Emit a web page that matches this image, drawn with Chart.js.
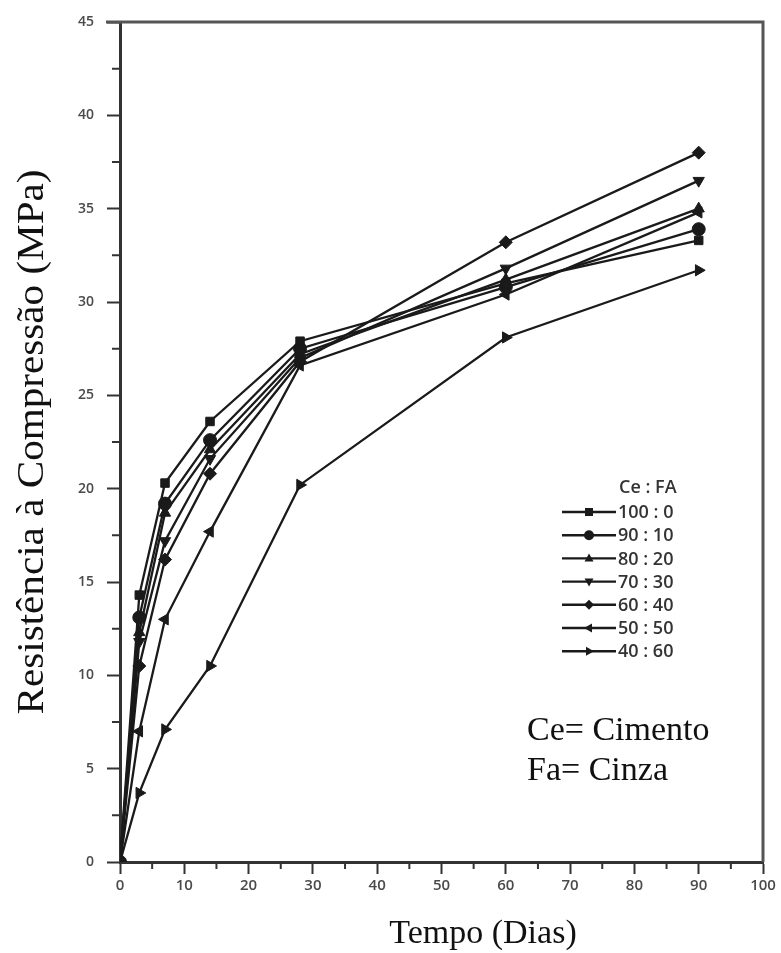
<!DOCTYPE html>
<html>
<head>
<meta charset="utf-8">
<script src="https://cdn.jsdelivr.net/npm/chart.js@4.4.0/dist/chart.umd.min.js"></script>
<style>
  html, body { margin: 0; padding: 0; background: #fff; }
  #wrap { width: 781px; height: 953px; position: relative; }
</style>
</head>
<body>
<div id="wrap"><canvas id="resChart"></canvas></div>
<script>
// Tempo (dias)
const dias = [0, 3, 7, 14, 28, 60, 90];

// Resistência à compressão (MPa) por traço Ce : FA
const s100_0 = [0, 14.3, 20.3, 23.6, 27.9, 31.0, 33.3];
const s90_10 = [0, 13.1, 19.2, 22.6, 27.5, 30.8, 33.9];
const s80_20 = [0, 12.3, 18.7, 22.1, 27.2, 31.2, 35.0];
const s70_30 = [0, 11.8, 17.2, 21.6, 27.0, 31.8, 36.5];
const s60_40 = [0, 10.5, 16.2, 20.8, 26.8, 33.2, 38.0];
const s50_50 = [0, 7.0, 13.0, 17.7, 26.6, 30.4, 34.8];
const s40_60 = [0, 3.7, 7.1, 10.5, 20.2, 28.1, 31.7];

const seriesLabels = ['100 : 0', '90 : 10', '80 : 20', '70 : 30', '60 : 40', '50 : 50', '40 : 60'];
const seriesValues = [s100_0, s90_10, s80_20, s70_30, s60_40, s50_50, s40_60];
const markerStyles = ['rect', 'circle', 'triangle', 'triangle', 'rectRot', 'triangle', 'triangle'];
const markerRotation = [0, 0, 0, 180, 0, 270, 90];

const yTicks = [0, 5, 10, 15, 20, 25, 30, 35, 40, 45];
const xTicks = [0, 10, 20, 30, 40, 50, 60, 70, 80, 90, 100];

const INK = '#1a1a1a';
const AXIS = '#333';
const TICK_TXT = '#4a4a4a';

function buildDatasets() {
    return seriesLabels.map(function(label, i) {
        return {
            label: label,
            data: dias.map(function(d, k) { return { x: d, y: seriesValues[i][k] }; }),
            borderColor: INK,
            backgroundColor: INK,
            borderWidth: 2.3,
            pointStyle: markerStyles[i],
            rotation: markerRotation[i],
            pointRadius: markerStyles[i] === 'rect' ? 6 : 6.5,
            pointBorderWidth: 1,
            tension: 0
        };
    });
}

// small marker drawer for the legend
function drawMarker(ctx, style, rot, x, y, r) {
    ctx.save();
    ctx.translate(x, y);
    ctx.rotate(rot * Math.PI / 180);
    ctx.beginPath();
    if (style === 'rect') {
        ctx.rect(-r * 0.8, -r * 0.8, r * 1.6, r * 1.6);
    } else if (style === 'circle') {
        ctx.arc(0, 0, r, 0, Math.PI * 2);
    } else if (style === 'rectRot') {
        ctx.moveTo(0, -r); ctx.lineTo(r, 0); ctx.lineTo(0, r); ctx.lineTo(-r, 0);
    } else {
        ctx.moveTo(0, -r); ctx.lineTo(r * 0.9, r * 0.6); ctx.lineTo(-r * 0.9, r * 0.6);
    }
    ctx.closePath();
    ctx.fillStyle = INK;
    ctx.fill();
    ctx.restore();
}

// frame, minor ticks, titles, legend and notes
const decorPlugin = {
    id: 'decor',
    afterDraw: function(chart) {
        const ctx = chart.ctx;
        const area = chart.chartArea;
        const xs = chart.scales.x;
        const ys = chart.scales.y;

        ctx.save();
        // top and right frame
        ctx.strokeStyle = '#555';
        ctx.lineWidth = 3;
        ctx.beginPath();
        ctx.moveTo(area.left - 14, area.top);
        ctx.lineTo(area.right, area.top);
        ctx.lineTo(area.right, area.bottom);
        ctx.stroke();

        // minor ticks
        ctx.strokeStyle = AXIS;
        ctx.lineWidth = 2;
        ctx.beginPath();
        for (let v = 2.5; v < 45; v += 5) {
            const py = ys.getPixelForValue(v);
            ctx.moveTo(area.left - 8, py);
            ctx.lineTo(area.left, py);
        }
        for (let v = 5; v < 100; v += 10) {
            const px = xs.getPixelForValue(v);
            ctx.moveTo(px, area.bottom);
            ctx.lineTo(px, area.bottom + 7);
        }
        ctx.stroke();

        // axis titles
        ctx.fillStyle = '#111';
        ctx.font = "34px 'Liberation Serif'";
        ctx.textAlign = 'center';
        ctx.textBaseline = 'middle';
        ctx.fillText('Tempo (Dias)', 483, 934);

        const yTitle = 'Resistência à Compressão (MPa)';
        ctx.save();
        ctx.font = "37px 'Liberation Serif'";
        ctx.translate(33, (area.top + area.bottom) / 2);
        ctx.rotate(-Math.PI / 2);
        const w = ctx.measureText(yTitle).width;
        ctx.scale(545 / w, 1);
        ctx.fillText(yTitle, 0, 0);
        ctx.restore();

        // notes
        ctx.textAlign = 'left';
        ctx.font = "34px 'Liberation Serif'";
        ctx.fillText('Ce= Cimento', 527, 731);
        ctx.fillText('Fa= Cinza', 527, 771);

        // legend
        ctx.font = "600 18px 'Open Sans'";
        ctx.fillStyle = '#333';
        ctx.fillText('Ce : FA', 619, 488);
        seriesLabels.forEach(function(label, i) {
            const ly = 512 + i * 23.2;
            ctx.strokeStyle = INK;
            ctx.lineWidth = 2.4;
            ctx.beginPath();
            ctx.moveTo(562, ly);
            ctx.lineTo(616, ly);
            ctx.stroke();
            drawMarker(ctx, markerStyles[i], markerRotation[i], 589, ly, 5);
            ctx.fillStyle = '#333';
            ctx.fillText(label, 618, ly + 1);
        });
        ctx.restore();
    }
};

function createChart() {
    const ctx = document.getElementById('resChart').getContext('2d');
    new Chart(ctx, {
        type: 'line',
        data: { datasets: buildDatasets() },
        options: {
            responsive: true,
            maintainAspectRatio: false,
            animation: false,
            layout: { padding: { top: 22, right: 18, left: 0, bottom: 0 } },
            plugins: {
                legend: { display: false },
                tooltip: { enabled: false }
            },
            scales: {
                x: {
                    type: 'linear',
                    min: 0,
                    max: 100,
                    afterFit: function(scale) { scale.height = 91; },
                    afterBuildTicks: function(scale) {
                        scale.ticks = xTicks.map(function(v) { return { value: v }; });
                    },
                    grid: { drawOnChartArea: false, drawTicks: true, tickLength: 12, tickWidth: 2, tickColor: AXIS },
                    border: { display: true, color: AXIS, width: 3 },
                    ticks: {
                        color: TICK_TXT,
                        padding: 3,
                        maxRotation: 0,
                        font: { family: "'Open Sans'", size: 15, weight: '600' }
                    }
                },
                y: {
                    min: 0,
                    max: 45,
                    afterFit: function(scale) { scale.width = 120; },
                    afterBuildTicks: function(scale) {
                        scale.ticks = yTicks.map(function(v) { return { value: v }; });
                    },
                    grid: { drawOnChartArea: false, drawTicks: true, tickLength: 13, tickWidth: 2, tickColor: AXIS },
                    border: { display: true, color: AXIS, width: 3 },
                    ticks: {
                        color: TICK_TXT,
                        padding: 13,
                        font: { family: "'Open Sans'", size: 14, weight: '600' }
                    }
                }
            }
        },
        plugins: [decorPlugin]
    });
}

document.addEventListener('DOMContentLoaded', function() {
    createChart();
});
</script>
</body>
</html>
